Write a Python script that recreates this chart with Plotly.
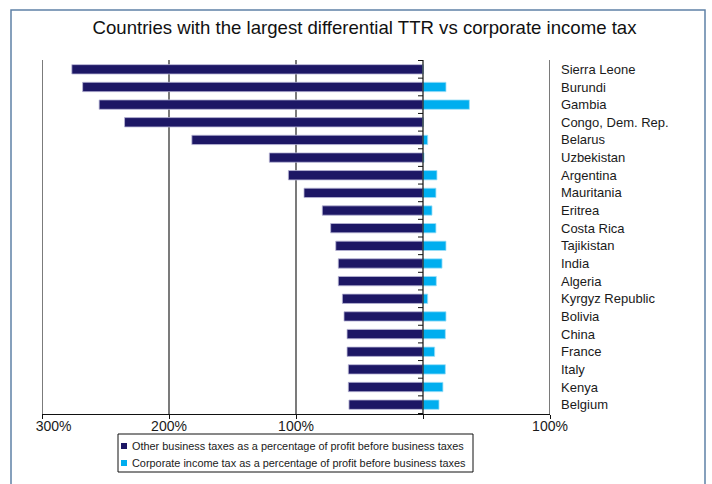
import plotly.graph_objects as go

# ---- data ----
countries = ["Sierra Leone", "Burundi", "Gambia", "Congo, Dem. Rep.", "Belarus",
             "Uzbekistan", "Argentina", "Mauritania", "Eritrea", "Costa Rica",
             "Tajikistan", "India", "Algeria", "Kyrgyz Republic", "Bolivia",
             "China", "France", "Italy", "Kenya", "Belgium"]
other_taxes = [276.5, 268.0, 255.0, 235.0, 182.0, 121.0, 106.0, 93.7, 79.3, 72.7,
               68.7, 66.7, 66.7, 63.5, 62.2, 59.8, 59.8, 58.8, 58.8, 58.3]
corporate_tax = [0.0, 18.1, 36.5, 0.0, 3.7, 0.8, 11.0, 10.2, 7.1, 10.2,
                 18.1, 15.0, 10.5, 3.7, 18.1, 17.6, 9.2, 17.6, 15.7, 12.6]
tick_values = [-300, -200, -100, 0, 100]
tick_labels = ["\u00a0\u00a0\u00a0\u00a0\u00a0\u00a0300%", "200%", "100%", "", "100%"]
series_names = ["Other business taxes as a percentage of profit before business taxes",
                "Corporate income tax as a percentage of profit before business taxes"]

DARK = "#1d1765"
LIGHT = "#00aeef"
FONT = "Liberation Sans, Arial, sans-serif"

# plot area in pixels (for paper-coordinate helpers)
L, R, T, B = 42, 550, 60, 414
def px(xp):
    return (xp - L) / (R - L)
def py(yp):
    return (B - yp) / (B - T)

fig = go.Figure()
fig.add_trace(go.Bar(y=countries, x=[-v for v in other_taxes], orientation="h",
                     marker=dict(color=DARK, line=dict(color="#b9b6d6", width=0.8)),
                     name=series_names[0], showlegend=False, hoverinfo="x+y"))
fig.add_trace(go.Bar(y=countries, x=corporate_tax, orientation="h",
                     marker=dict(color=LIGHT, line=dict(color="#9fe0f8", width=0.8)),
                     name=series_names[1], showlegend=False, hoverinfo="x+y"))

shapes = []
# vertical grid / frame lines
for xv in [-300, -200, -100, 100]:
    shapes.append(dict(type="line", xref="x", yref="paper", x0=xv, x1=xv, y0=0, y1=1,
                       line=dict(color="#222222", width=1.2), layer="below"))
# zero line
shapes.append(dict(type="line", xref="x", yref="paper", x0=0, x1=0, y0=0, y1=1,
                   line=dict(color="#111111", width=1.2), layer="above"))
# small ticks on the zero line at category boundaries
for i in range(len(countries) + 1):
    shapes.append(dict(type="line", xref="x", yref="y", xsizemode="pixel", xanchor=0,
                       x0=-5, x1=0, y0=i - 0.5, y1=i - 0.5,
                       line=dict(color="#111111", width=1)))
# outer frame
shapes.append(dict(type="rect", xref="paper", yref="paper",
                   x0=px(11), x1=px(705), y0=py(495), y1=py(10),
                   line=dict(color="#5f81a6", width=1.5), fillcolor="rgba(0,0,0,0)",
                   layer="below"))
# legend box and swatches
shapes.append(dict(type="rect", xref="paper", yref="paper",
                   x0=px(118), x1=px(473), y0=py(472), y1=py(434),
                   line=dict(color="#111111", width=1), fillcolor="white"))
annotations = []
for k, (nm, col) in enumerate(zip(series_names, [DARK, LIGHT])):
    yc = 446 + 17 * k
    shapes.append(dict(type="rect", xref="paper", yref="paper",
                       x0=px(121), x1=px(127), y0=py(yc + 3), y1=py(yc - 3),
                       line=dict(width=0), fillcolor=col))
    annotations.append(dict(text=nm, xref="paper", yref="paper", x=px(130), y=py(yc),
                            xanchor="left", yanchor="middle", showarrow=False,
                            font=dict(size=10.9, family=FONT, color="#1a1a1a")))

fig.update_layout(
    width=712, height=484,
    margin=dict(l=L, r=712 - R, t=T, b=484 - B),
    paper_bgcolor="white", plot_bgcolor="white",
    barmode="overlay", bargap=0.47, showlegend=False,
    font=dict(family=FONT, color="#1a1a1a", size=13),
    title=dict(text="Countries with the largest differential TTR vs corporate income tax",
               xref="container", yref="container", x=0.512, xanchor="center",
               y=1 - 27 / 484, yanchor="middle",
               font=dict(family=FONT, size=18.6, color="#111111")),
    xaxis=dict(range=[-300, 100], tickvals=tick_values, ticktext=tick_labels,
               showgrid=False, zeroline=False, showline=True, linecolor="#111111",
               linewidth=1.2, ticks="outside", ticklen=4, tickcolor="#111111",
               ticklabelstandoff=-5,
               tickfont=dict(size=14, family=FONT, color="#1a1a1a"), fixedrange=True),
    yaxis=dict(categoryorder="array", categoryarray=countries, autorange="reversed",
               side="right", showgrid=False, zeroline=False, showline=False, ticks="",
               ticklabelstandoff=10,
               tickfont=dict(size=13, family=FONT, color="#1a1a1a"), fixedrange=True),
    shapes=shapes,
    annotations=annotations,
)

fig.write_html("out.html", config={"displayModeBar": False},
               post_script="document.body.style.margin='0';")
